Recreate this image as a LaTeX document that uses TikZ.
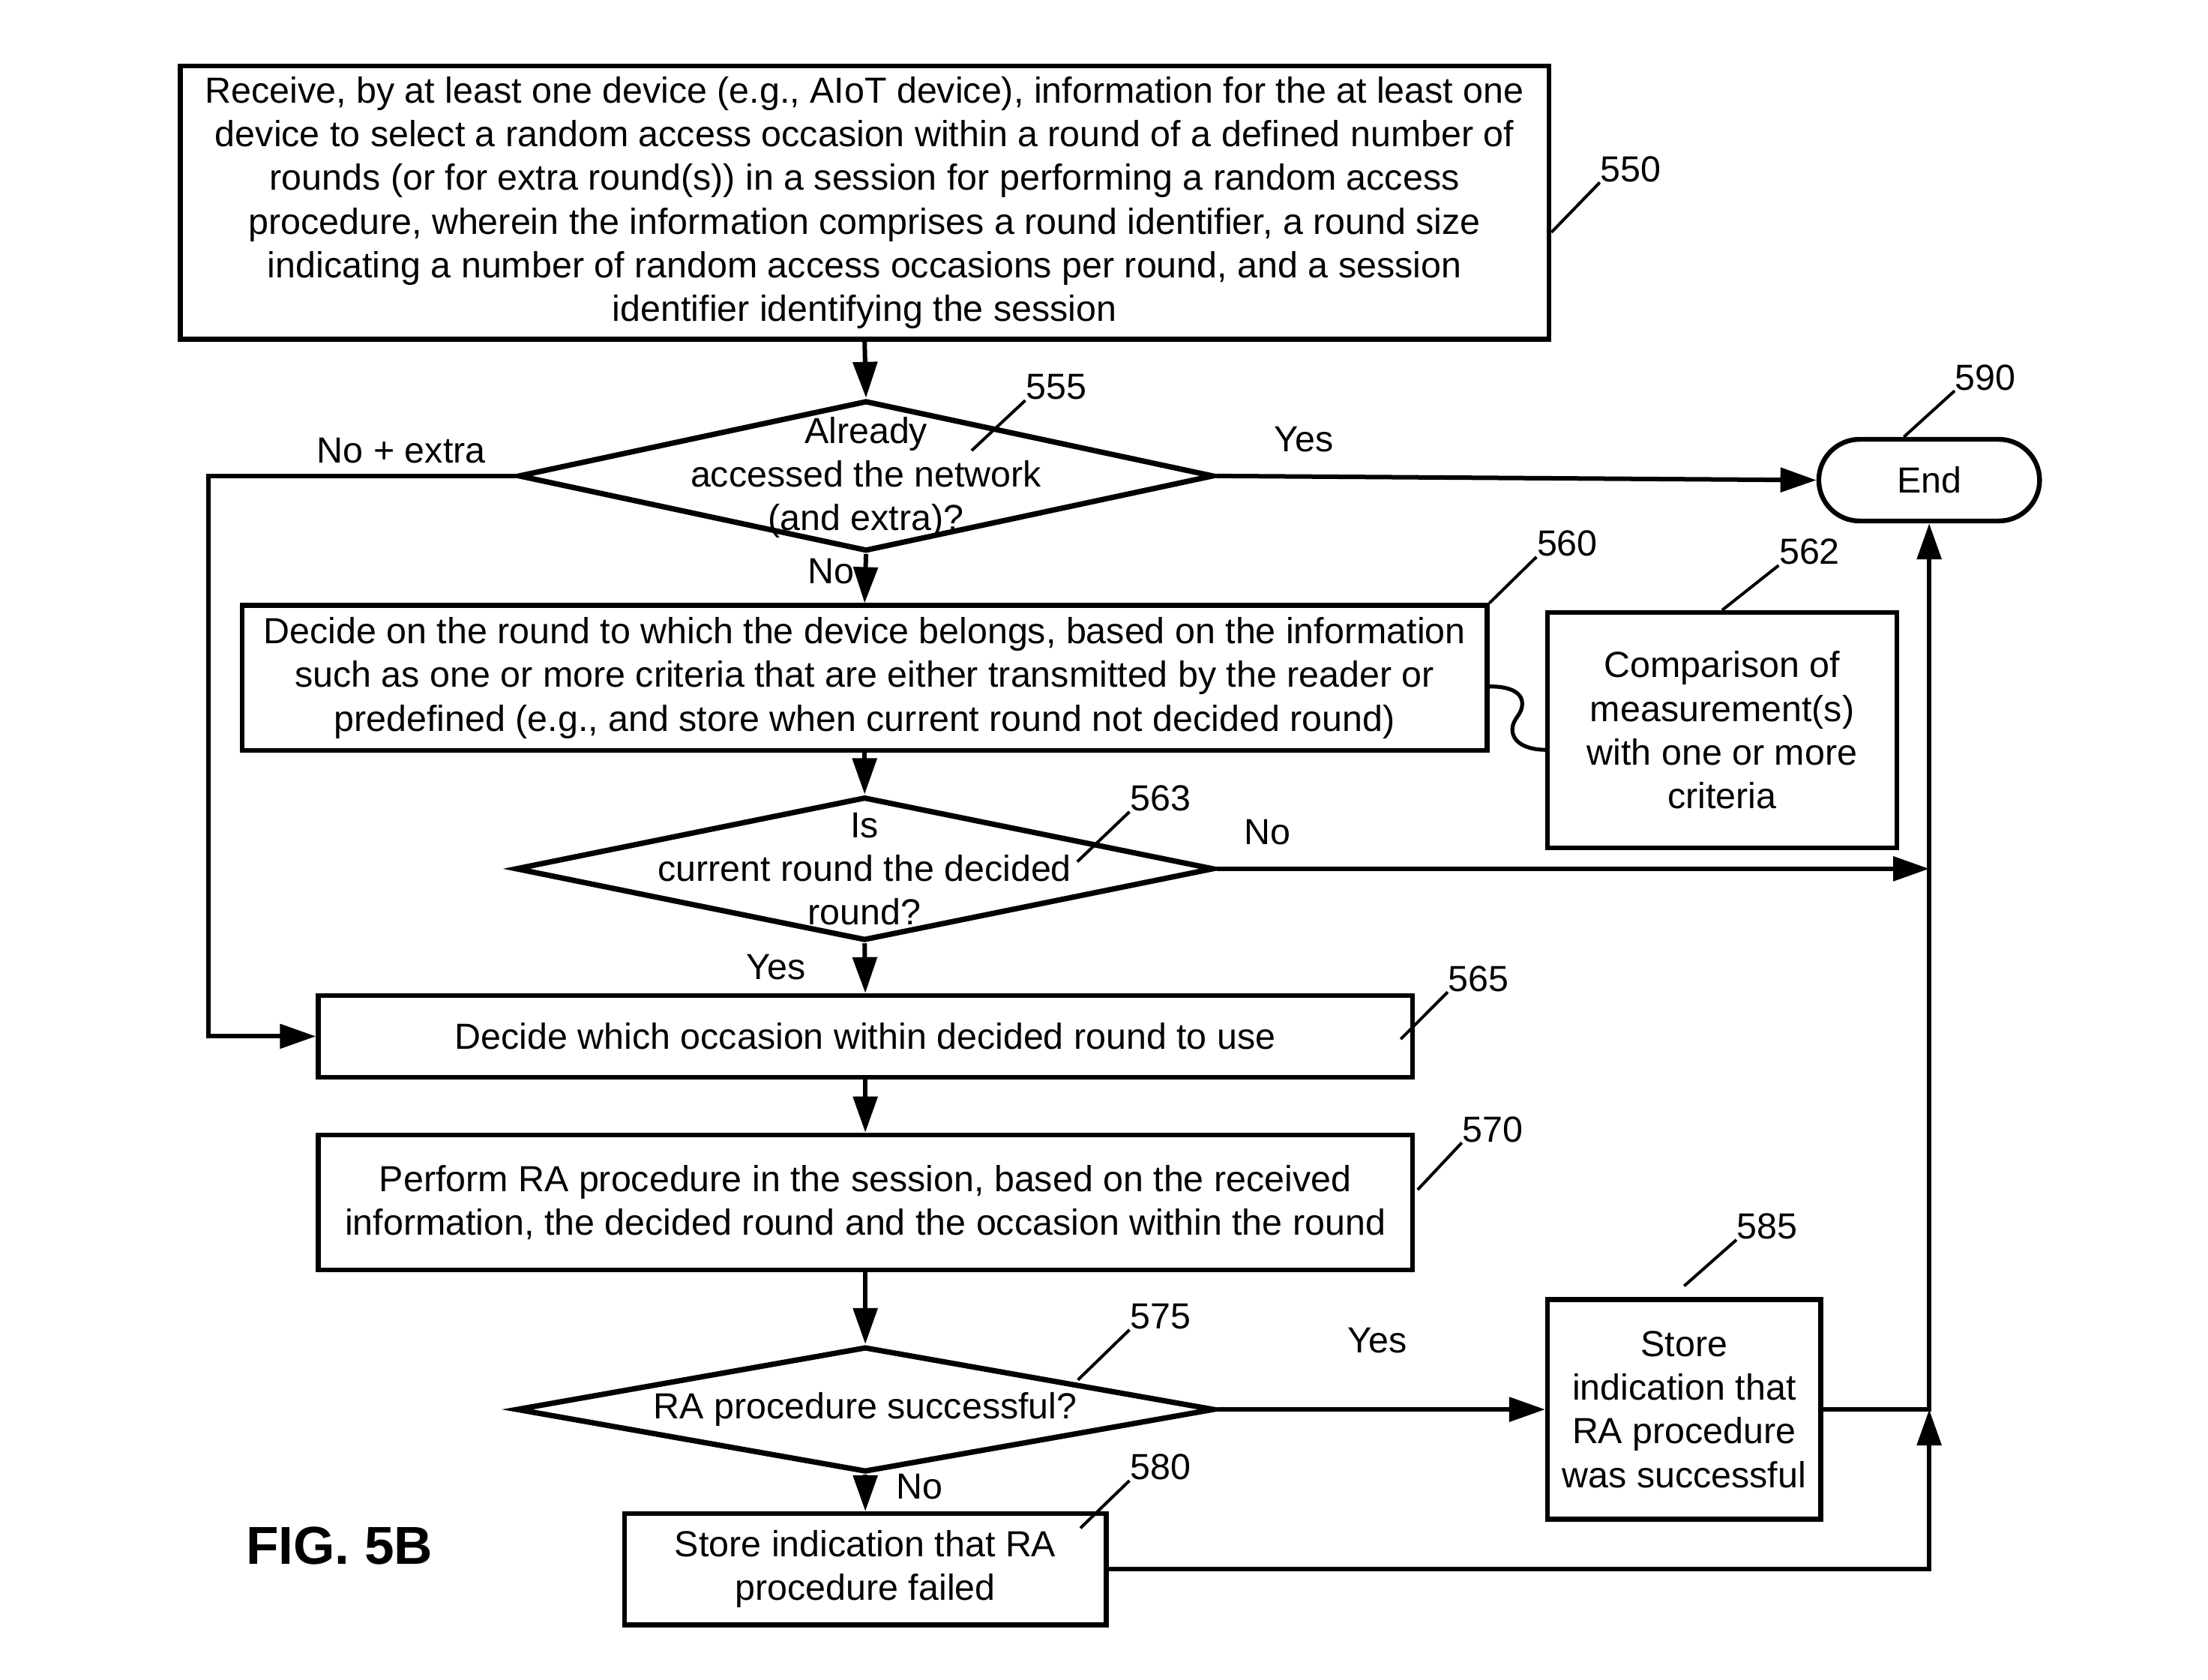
\documentclass[tikz,border=0pt]{standalone}
\usepackage{fontspec}
\setmainfont{Liberation Sans}
\usetikzlibrary{shapes.geometric,shapes.misc,arrows.meta,calc}
\newcommand{\spx}{0.4696pt}
\begin{document}
\begin{tikzpicture}[x=0.4696pt,y=-0.4696pt,
 every node/.style={font=\fontsize{12.1}{14.56}\selectfont},
 box/.style={draw, line width=1.6pt, inner sep=0pt, align=center},
 dia/.style={draw, diamond, line width=1.8pt, inner sep=0pt},
 conn/.style={line width=1.5pt, -{Triangle[length=12pt,width=8pt]}},
 plain/.style={line width=1.5pt},
 lead/.style={line width=1pt},
 ref/.style={inner sep=0pt},
 lbl/.style={inner sep=0pt, align=center}
]
\useasboundingbox (0,0) rectangle (1568,1193);

% boxes
\node[box, minimum width=972*\spx, minimum height=194*\spx] (b550) at (614,144)
 {Receive, by at least one device (e.g., AIoT device), information for the at least one\\
  device to select a random access occasion within a round of a defined number of\\
  rounds (or for extra round(s)) in a session for performing a random access\\
  procedure, wherein the information comprises a round identifier, a round size\\
  indicating a number of random access occasions per round, and a session\\
  identifier identifying the session};

\node[dia, minimum width=494*\spx, minimum height=107*\spx] (d555) at (615,338) {};
\node[lbl] (t555) at (615,339) {Already\\ accessed the network\\ (and extra)?};

\node[draw, rounded rectangle, line width=1.6pt, minimum width=171*\spx, minimum height=58*\spx] (end) at (1370,341) {End};

\node[box, minimum width=884*\spx, minimum height=103*\spx] (b560) at (614,481.5)
 {Decide on the round to which the device belongs, based on the information\\
  such as one or more criteria that are either transmitted by the reader or\\
  predefined (e.g., and store when current round not decided round)};

\node[box, minimum width=248*\spx, minimum height=167*\spx] (b562) at (1223,518.5)
 {Comparison of\\ measurement(s)\\ with one or more\\ criteria};

\node[dia, minimum width=496*\spx, minimum height=102*\spx] (d563) at (614,617) {};
\node[lbl] (t563) at (614,617) {Is\\ current round the decided\\ round?};

\node[box, minimum width=777*\spx, minimum height=58*\spx] (b565) at (614.5,736)
 {Decide which occasion within decided round to use};

\node[box, minimum width=777*\spx, minimum height=96*\spx] (b570) at (614.5,854)
 {Perform RA procedure in the session, based on the received\\
  information, the decided round and the occasion within the round};

\node[dia, minimum width=496*\spx, minimum height=89*\spx] (d575) at (614.5,1001) {};
\node[lbl] (t575) at (614.5,1001) {RA procedure successful?};

\node[box, minimum width=194*\spx, minimum height=156*\spx] (b585) at (1196,1001)
 {Store\\ indication that\\ RA procedure\\ was successful};

\node[box, minimum width=342*\spx, minimum height=79*\spx] (b580) at (614.5,1114.5)
 {Store indication that RA\\ procedure failed};

% connectors
\coordinate (c1) at (148,338);
\draw[conn] (b550.south) -- (d555.north);
\draw[conn] (d555.east) -- (end.west);
\draw[conn] (d555.west) -- (c1) |- (b565.west);
\draw[conn] (d555.south) -- (b560.north);
\draw[conn] (b560.south) -- (d563.north);
\draw[conn] (d563.east) -- (d563.east -| end.south);
\draw[conn] (d563.south) -- (b565.north);
\draw[conn] (b565.south) -- (b570.north);
\draw[conn] (b570.south) -- (d575.north);
\draw[conn] (d575.east) -- (b585.west);
\draw[conn] (d575.south) -- (b580.north);
\draw[conn] (b580.east) -| (end.south |- b585.east);
\draw[conn] (b585.east) -| (end.south);

\draw[line width=1.3pt] ($(b560.east)+(0,6)$) to[out=0,in=90] (1081,500)
  to[out=-90,in=90] (1074,518) to[out=-90,in=180] ($(b562.west)+(0,14)$);

% branch labels
\node[lbl] (l1) at (285,320) {No + extra};
\node[lbl] (l2) at (926,312) {Yes};
\node[lbl] (l3) at (590,406) {No};
\node[lbl] (l4) at (900,591) {No};
\node[lbl] (l5) at (551,687) {Yes};
\node[lbl] (l6) at (978,952) {Yes};
\node[lbl] (l7) at (653,1056) {No};

% reference numerals
\node[ref] (r550) at (1158,120) {550};
\node[ref] (r555) at (750,275) {555};
\node[ref] (r590) at (1410,268) {590};
\node[ref] (r560) at (1113,386) {560};
\node[ref] (r562) at (1285,392) {562};
\node[ref] (r563) at (824,567) {563};
\node[ref] (r565) at (1050,695) {565};
\node[ref] (r570) at (1060,802) {570};
\node[ref] (r575) at (824,935) {575};
\node[ref] (r580) at (824,1042) {580};
\node[ref] (r585) at (1255,871) {585};

\draw[lead] ($(b550.east)+(0,21)$) -- (r550.south west);
\draw[lead] ($(d555)+(75,-18)$) -- (r555.south west);
\draw[lead] ($(end.north)+(-18,0)$) -- (r590.south west);
\draw[lead] (b560.north east) -- (r560.south west);
\draw[lead] (b562.north) -- (r562.south west);
\draw[lead] ($(d563)+(151,-5)$) -- (r563.south west);
\draw[lead] ($(b565.east)+(-10,2)$) -- (r565.south west);
\draw[lead] ($(b570.east)+(2,-9)$) -- (r570.south west);
\draw[lead] ($(d575)+(151,-21)$) -- (r575.south west);
\draw[lead] ($(b580.north east)+(-20,12)$) -- (r580.south west);
\draw[lead] ($(b585.north)+(0,-8)$) -- (r585.south west);

\node[font=\fontsize{17.8}{20}\selectfont\bfseries] (fig) at (241,1098) {FIG. 5B};
\end{tikzpicture}
\end{document}
